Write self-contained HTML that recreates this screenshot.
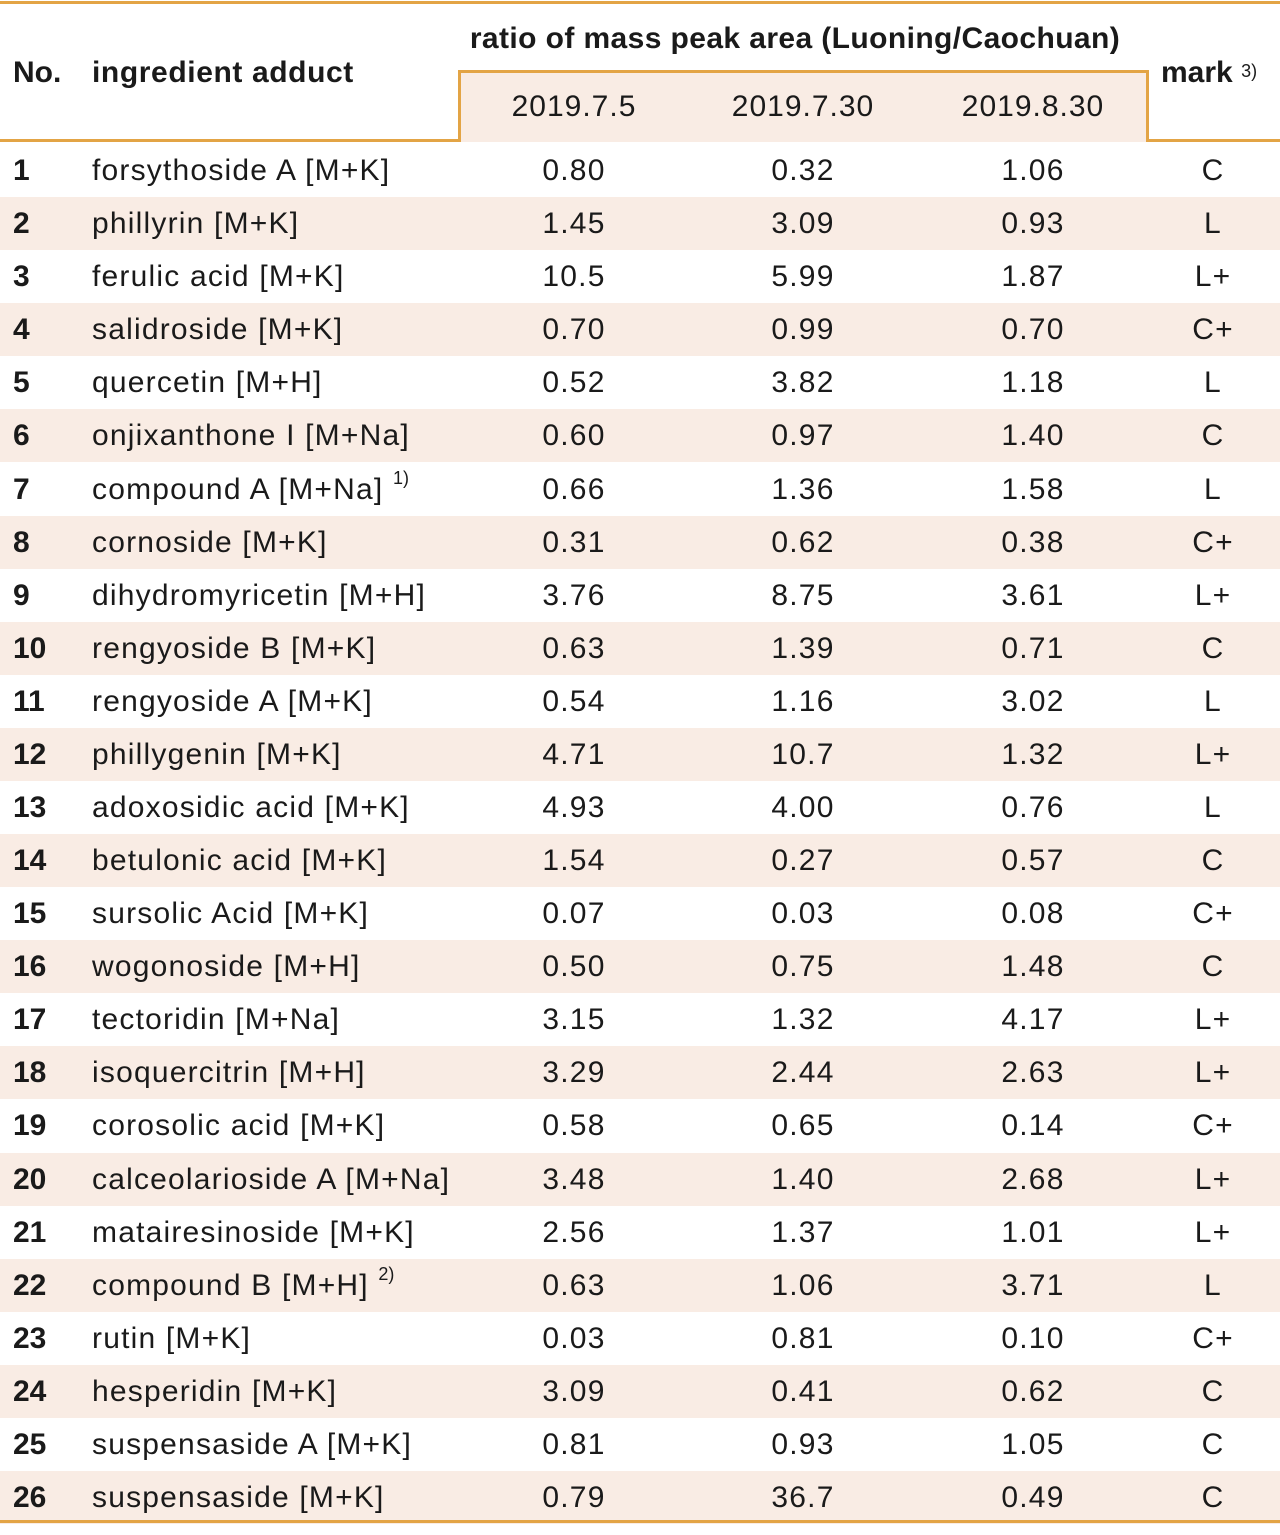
<!DOCTYPE html>
<html><head><meta charset="utf-8"><style>
body{margin:0;width:1280px;height:1535px;background:#fff;font-family:"Liberation Sans",sans-serif;color:#1a1a1a;position:relative;overflow:hidden}
.a{position:absolute}
.r{position:absolute;left:0;width:1280px;height:53px;font-size:30px;line-height:53px;letter-spacing:1.2px}
.r span{position:absolute;top:0}
.n{left:13px;font-weight:bold;letter-spacing:0}
.i{left:92px}
.c{width:200px;text-align:center;margin-left:-100px}
.o{background:#f9ece4}
sup{font-size:18px;vertical-align:top;line-height:30px;letter-spacing:0}
</style></head><body>
<div class="a" style="left:0;top:1px;width:1280px;height:3px;background:#e3a445"></div>
<div class="a" style="left:460px;top:71px;width:687px;height:71px;background:#f9ece4"></div>
<div class="a" style="left:0;top:139px;width:461px;height:3px;background:#e3a445"></div>
<div class="a" style="left:458px;top:70px;width:3px;height:72px;background:#e3a445"></div>
<div class="a" style="left:458px;top:70px;width:691px;height:3px;background:#e3a445"></div>
<div class="a" style="left:1146px;top:70px;width:3px;height:72px;background:#e3a445"></div>
<div class="a" style="left:1146px;top:139px;width:134px;height:3px;background:#e3a445"></div>
<div class="a" style="left:13px;top:56px;font-size:30px;font-weight:bold">No.</div>
<div class="a" style="left:92px;top:56px;font-size:30px;font-weight:bold;letter-spacing:0.6px">ingredient adduct</div>
<div class="a" style="left:440px;top:22px;width:710px;text-align:center;font-size:30px;font-weight:bold;letter-spacing:0.4px">ratio of mass peak area (Luoning/Caochuan)</div>
<div class="a" style="left:1161px;top:56px;font-size:30px;font-weight:bold">mark <sup style="font-weight:normal">3)</sup></div>
<div class="a" style="left:474px;top:90px;width:200px;text-align:center;font-size:30px;letter-spacing:1px">2019.7.5</div>
<div class="a" style="left:703px;top:90px;width:200px;text-align:center;font-size:30px;letter-spacing:1px">2019.7.30</div>
<div class="a" style="left:933px;top:90px;width:200px;text-align:center;font-size:30px;letter-spacing:1px">2019.8.30</div>
<div id="rows"></div>
<div class="a" style="left:0;top:1520px;width:1280px;height:3px;background:#e3a445"></div>
<script>
var d=[["forsythoside A [M+K]","0.80","0.32","1.06","C"],["phillyrin [M+K]","1.45","3.09","0.93","L"],["ferulic acid [M+K]","10.5","5.99","1.87","L+"],["salidroside [M+K]","0.70","0.99","0.70","C+"],["quercetin [M+H]","0.52","3.82","1.18","L"],["onjixanthone I [M+Na]","0.60","0.97","1.40","C"],["compound A [M+Na] <sup>1)</sup>","0.66","1.36","1.58","L"],["cornoside [M+K]","0.31","0.62","0.38","C+"],["dihydromyricetin [M+H]","3.76","8.75","3.61","L+"],["rengyoside B [M+K]","0.63","1.39","0.71","C"],["rengyoside A [M+K]","0.54","1.16","3.02","L"],["phillygenin [M+K]","4.71","10.7","1.32","L+"],["adoxosidic acid [M+K]","4.93","4.00","0.76","L"],["betulonic acid [M+K]","1.54","0.27","0.57","C"],["sursolic Acid [M+K]","0.07","0.03","0.08","C+"],["wogonoside [M+H]","0.50","0.75","1.48","C"],["tectoridin [M+Na]","3.15","1.32","4.17","L+"],["isoquercitrin [M+H]","3.29","2.44","2.63","L+"],["corosolic acid [M+K]","0.58","0.65","0.14","C+"],["calceolarioside A [M+Na]","3.48","1.40","2.68","L+"],["matairesinoside [M+K]","2.56","1.37","1.01","L+"],["compound B [M+H] <sup>2)</sup>","0.63","1.06","3.71","L"],["rutin [M+K]","0.03","0.81","0.10","C+"],["hesperidin [M+K]","3.09","0.41","0.62","C"],["suspensaside A [M+K]","0.81","0.93","1.05","C"],["suspensaside [M+K]","0.79","36.7","0.49","C"]];
var h="";d.forEach(function(r,k){var t=144+k*53.08;h+='<div class="r'+(k%2?' o':'')+'" style="top:'+t.toFixed(1)+'px"><span class="n">'+(k+1)+'</span><span class="i">'+r[0]+'</span><span class="c" style="left:574px">'+r[1]+'</span><span class="c" style="left:803px">'+r[2]+'</span><span class="c" style="left:1033px">'+r[3]+'</span><span class="c" style="left:1213px">'+r[4]+'</span></div>';});
document.getElementById("rows").innerHTML=h;
</script>
</body></html>
